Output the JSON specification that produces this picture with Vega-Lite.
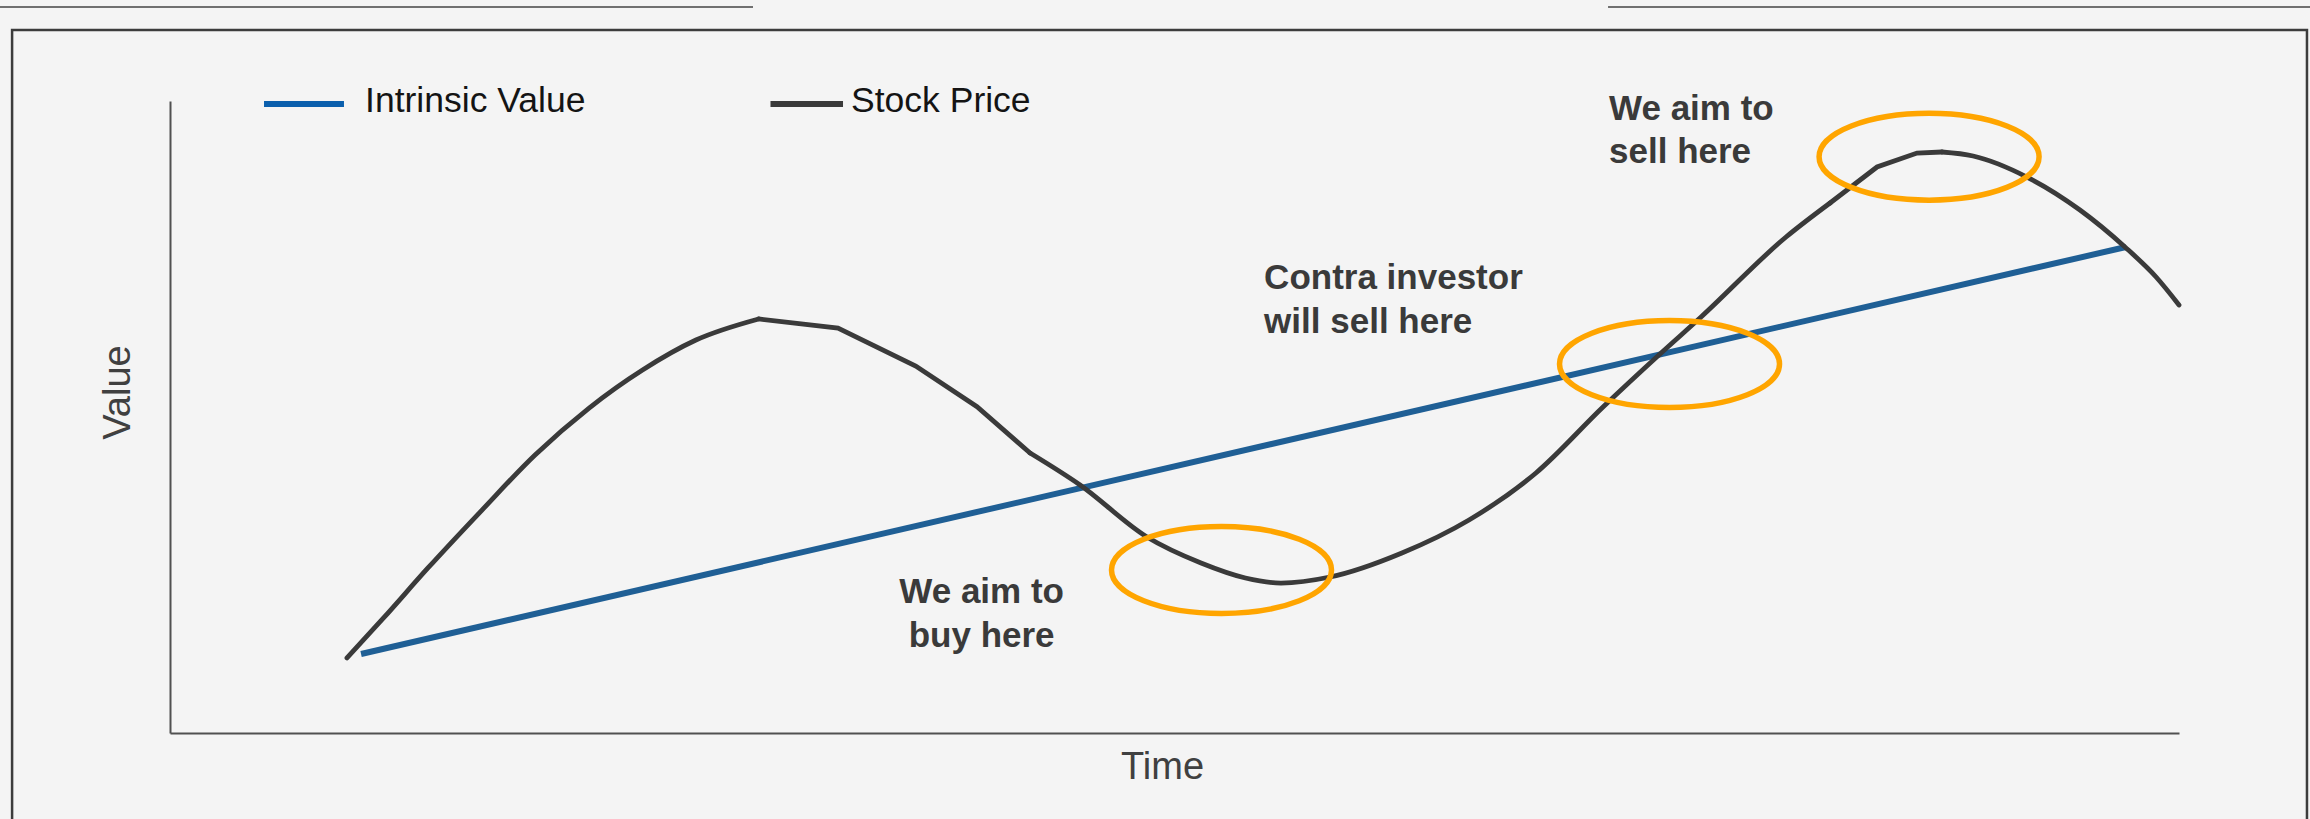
{
  "$schema": "https://vega.github.io/schema/vega-lite/v6.json",
  "width": 2009,
  "height": 632,
  "autosize": {"type": "none"},
  "padding": {"left": 170, "top": 101, "right": 131, "bottom": 86},
  "background": "#f4f4f4",
  "config": {"view": {"stroke": null}, "font": "Liberation Sans"},
  "datasets": {
    "intrinsic": [
      {"t": 9.51, "v": 12.5},
      {"t": 97.36, "v": 76.9}
    ],
    "stockSmooth": [
      {"seg": "a", "t": 8.81, "v": 11.87},
      {"seg": "a", "t": 10.63, "v": 18.2},
      {"seg": "a", "t": 12.84, "v": 26.11},
      {"seg": "a", "t": 15.53, "v": 35.28},
      {"seg": "a", "t": 18.17, "v": 43.99},
      {"seg": "a", "t": 20.86, "v": 51.42},
      {"seg": "a", "t": 23.52, "v": 57.44},
      {"seg": "a", "t": 26.18, "v": 62.18},
      {"seg": "a", "t": 29.3, "v": 65.51},
      {"seg": "b", "t": 42.81, "v": 44.3},
      {"seg": "b", "t": 45.3, "v": 39.24},
      {"seg": "b", "t": 48.63, "v": 31.01},
      {"seg": "b", "t": 51.32, "v": 26.9},
      {"seg": "b", "t": 53.53, "v": 24.53},
      {"seg": "b", "t": 55.3, "v": 23.73},
      {"seg": "b", "t": 57.74, "v": 24.68},
      {"seg": "b", "t": 61.32, "v": 28.48},
      {"seg": "b", "t": 64.66, "v": 33.7},
      {"seg": "b", "t": 67.99, "v": 41.14},
      {"seg": "b", "t": 71.33, "v": 51.58},
      {"seg": "b", "t": 74.22, "v": 60.13},
      {"seg": "b", "t": 76.21, "v": 65.82},
      {"seg": "b", "t": 80.44, "v": 78.48},
      {"seg": "b", "t": 82.63, "v": 83.86},
      {"seg": "c", "t": 88.2, "v": 91.93},
      {"seg": "c", "t": 89.75, "v": 91.3},
      {"seg": "c", "t": 92.43, "v": 87.97},
      {"seg": "c", "t": 95.07, "v": 82.75},
      {"seg": "c", "t": 97.31, "v": 76.9},
      {"seg": "c", "t": 98.86, "v": 72.15},
      {"seg": "c", "t": 100.0, "v": 67.72}
    ],
    "stockStraight": [
      {"seg": "a", "t": 29.3, "v": 65.51},
      {"seg": "a", "t": 33.25, "v": 64.08},
      {"seg": "a", "t": 37.12, "v": 58.07},
      {"seg": "a", "t": 40.17, "v": 51.63},
      {"seg": "a", "t": 42.81, "v": 44.3},
      {"seg": "b", "t": 82.63, "v": 83.86},
      {"seg": "b", "t": 84.97, "v": 89.56},
      {"seg": "b", "t": 86.96, "v": 91.77},
      {"seg": "b", "t": 88.2, "v": 91.93}
    ],
    "ellipses": [
      {"t": 52.34, "v": 25.79},
      {"t": 74.64, "v": 58.39},
      {"t": 87.56, "v": 91.19}
    ],
    "notesCenter": [
      {"t": 40.4, "v": 20.57, "text": "We aim to"},
      {"t": 40.4, "v": 13.61, "text": "buy here"}
    ],
    "notesLeft": [
      {"t": 54.46, "v": 70.25, "text": "Contra investor"},
      {"t": 54.46, "v": 63.29, "text": "will sell here"},
      {"t": 71.63, "v": 96.99, "text": "We aim to"},
      {"t": 71.63, "v": 90.19, "text": "sell here"}
    ],
    "legendBlue": [{"t": 4.68, "t2": 8.66, "v": 99.53}],
    "legendDark": [{"t": 29.89, "t2": 33.5, "v": 99.53}],
    "legendLabels": [
      {"t": 9.71, "v": 98.26, "text": "Intrinsic Value"},
      {"t": 33.9, "v": 98.26, "text": "Stock Price"}
    ],
    "frame": [{"t": -7.86, "t2": 106.37, "v": 111.23, "v2": -20}],
    "topLines": [
      {"t": -8.5, "t2": 29.02, "v": 114.87},
      {"t": 71.58, "t2": 106.6, "v": 114.87}
    ]
  },
  "encoding": {
    "x": {
      "field": "t",
      "type": "quantitative",
      "scale": {"domain": [0, 100], "nice": false, "zero": false},
      "axis": {
        "title": "Time",
        "domain": true,
        "domainColor": "#505050",
        "domainWidth": 2,
        "ticks": false,
        "labels": false,
        "grid": false,
        "titleFont": "Liberation Sans",
        "titleFontSize": 38,
        "titleFontWeight": "normal",
        "titleColor": "#404040",
        "titleBaseline": "alphabetic",
        "titleX": 992,
        "titleY": 45
      }
    },
    "y": {
      "field": "v",
      "type": "quantitative",
      "scale": {"domain": [0, 100], "nice": false, "zero": false},
      "axis": {
        "title": "Value",
        "domain": true,
        "domainColor": "#505050",
        "domainWidth": 2,
        "ticks": false,
        "labels": false,
        "grid": false,
        "titleFont": "Liberation Sans",
        "titleFontSize": 38,
        "titleFontWeight": "normal",
        "titleColor": "#404040",
        "titleAngle": 270,
        "titleBaseline": "alphabetic",
        "titleAlign": "center",
        "titleX": -41,
        "titleY": 291
      }
    }
  },
  "layer": [
    {
      "data": {"name": "frame"},
      "mark": {"type": "rect", "fill": "transparent", "stroke": "#3c3c3c", "strokeWidth": 2.5, "clip": false},
      "encoding": {"x2": {"field": "t2"}, "y2": {"field": "v2"}}
    },
    {
      "data": {"name": "topLines"},
      "mark": {"type": "rule", "stroke": "#444444", "strokeWidth": 1.5},
      "encoding": {"x2": {"field": "t2"}}
    },
    {
      "data": {"name": "intrinsic"},
      "mark": {"type": "line", "stroke": "#1f5f95", "strokeWidth": 6, "strokeCap": "butt"},
      "encoding": {}
    },
    {
      "data": {"name": "stockSmooth"},
      "mark": {"type": "line", "stroke": "#3a3a3a", "strokeWidth": 4.8, "strokeJoin": "round", "strokeCap": "round", "interpolate": "monotone"},
      "encoding": {"detail": {"field": "seg"}}
    },
    {
      "data": {"name": "stockStraight"},
      "mark": {"type": "line", "stroke": "#3a3a3a", "strokeWidth": 4.8, "strokeJoin": "miter", "strokeCap": "round"},
      "encoding": {"detail": {"field": "seg"}}
    },
    {
      "data": {"name": "ellipses"},
      "mark": {
        "type": "point",
        "shape": "M -1 0 A 1 0.395 0 1 0 1 0 A 1 0.395 0 1 0 -1 0 Z",
        "size": 48400,
        "filled": false,
        "stroke": "#ffa500",
        "strokeWidth": 5.5,
        "opacity": 1
      },
      "encoding": {}
    },
    {
      "data": {"name": "notesCenter"},
      "mark": {"type": "text", "align": "center", "baseline": "alphabetic", "font": "Liberation Sans", "fontSize": 35, "fontWeight": "bold", "fill": "#3a3a3a"},
      "encoding": {"text": {"field": "text"}}
    },
    {
      "data": {"name": "notesLeft"},
      "mark": {"type": "text", "align": "left", "baseline": "alphabetic", "font": "Liberation Sans", "fontSize": 35, "fontWeight": "bold", "fill": "#3a3a3a"},
      "encoding": {"text": {"field": "text"}}
    },
    {
      "data": {"name": "legendBlue"},
      "mark": {"type": "rule", "stroke": "#0a5fad", "strokeWidth": 6},
      "encoding": {"x2": {"field": "t2"}}
    },
    {
      "data": {"name": "legendDark"},
      "mark": {"type": "rule", "stroke": "#3a3a3a", "strokeWidth": 6},
      "encoding": {"x2": {"field": "t2"}}
    },
    {
      "data": {"name": "legendLabels"},
      "mark": {"type": "text", "align": "left", "baseline": "alphabetic", "font": "Liberation Sans", "fontSize": 35.5, "fill": "#141414"},
      "encoding": {"text": {"field": "text"}}
    }
  ]
}
